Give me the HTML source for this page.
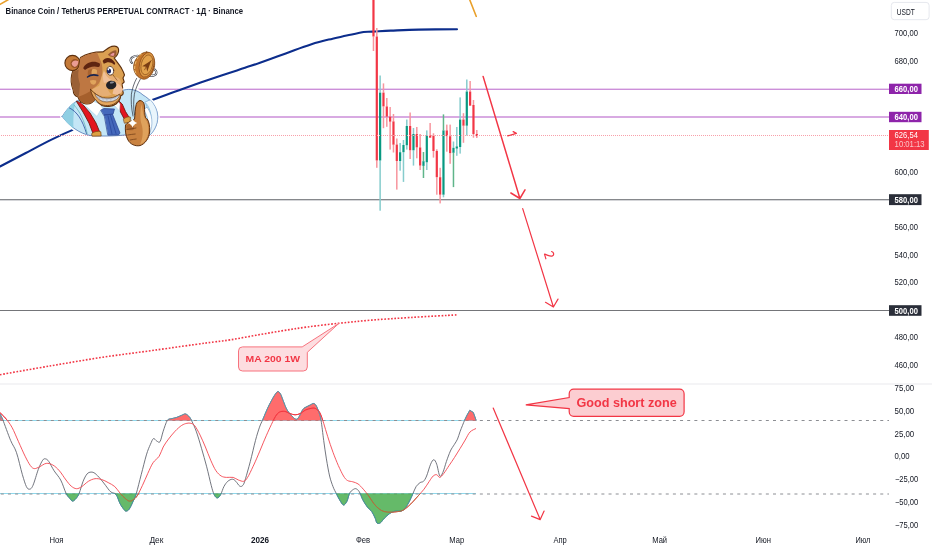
<!DOCTYPE html>
<html><head><meta charset="utf-8"><title>BNBUSDT.P</title>
<style>
html,body{margin:0;padding:0;background:#fff;}
body{width:932px;height:550px;overflow:hidden;font-family:"Liberation Sans",sans-serif;}
svg{display:block;font-family:"Liberation Sans",sans-serif;}
text{filter:url(#gs);}
.ax{font-size:8.6px;fill:#131722;}
.axw{font-size:8.6px;fill:#fff;font-weight:bold;}
</style></head><body>
<svg width="932" height="550" viewBox="0 0 932 550">
<defs>
<filter id="gs" x="-5%" y="-20%" width="110%" height="140%" color-interpolation-filters="sRGB"><feOffset dx="0" dy="0"/></filter>
<clipPath id="cu"><rect x="0" y="383" width="480" height="37.5"/></clipPath>
<clipPath id="cl"><rect x="0" y="493.5" width="480" height="60"/></clipPath>
</defs>
<rect width="932" height="550" fill="#fff"/>
<!-- pane separator -->
<rect x="0" y="383" width="932" height="2" fill="#f4f4f6"/>
<!-- horizontal levels -->
<rect x="0" y="88.6" width="889" height="1.4" fill="#cc8fd9"/>
<rect x="0" y="116.25" width="889" height="1.5" fill="#cc8fd9"/>
<rect x="0" y="199" width="889" height="1" fill="#86888c"/><rect x="0" y="200" width="889" height="1" fill="#d4d5d8"/>
<rect x="0" y="310" width="889" height="1" fill="#747579"/>
<!-- orange line bits -->
<line x1="-1" y1="5" x2="8.5" y2="-0.5" stroke="#e9a02b" stroke-width="1.6"/>
<line x1="469.6" y1="-0.5" x2="476.2" y2="16.3" stroke="#e9a02b" stroke-width="1.6" stroke-linecap="round"/>
<!-- MA blue -->
<path d="M0.0,166.5C4.3,164.2 17.2,157.5 25.8,153.0C34.3,148.5 43.7,143.4 51.5,139.6C59.3,135.8 63.0,134.0 72.7,129.9C82.5,125.8 96.8,120.0 110.0,115.0C123.2,110.0 140.1,104.2 152.2,99.9C164.3,95.6 170.8,93.0 182.5,88.9C194.2,84.8 211.8,78.7 222.2,75.2C232.6,71.7 238.7,69.9 245.0,67.8C251.3,65.7 254.6,64.7 260.0,62.8C265.4,60.9 271.5,58.7 277.2,56.6C282.9,54.5 288.6,52.3 294.3,50.2C300.0,48.1 305.8,46.0 311.5,44.2C317.2,42.4 322.8,41.0 328.7,39.6C334.6,38.2 340.8,36.9 346.6,35.6C352.4,34.3 360.8,32.6 363.6,32.0 L363.6,32.0C365.1,31.9 368.2,31.8 372.7,31.6C377.2,31.4 383.1,30.9 390.8,30.6C398.5,30.3 407.7,29.8 418.7,29.6C429.7,29.4 450.6,29.3 457.0,29.2" fill="none" stroke="#0c2d8c" stroke-width="2.1" stroke-linecap="round" stroke-linejoin="round"/>
<!-- MA200 1W dotted -->
<path d="M0.0,374.7C8.6,373.2 34.3,368.6 51.5,365.7C68.7,362.8 85.8,359.8 103.0,357.2C120.2,354.6 137.3,352.6 154.5,350.2C171.7,347.8 193.4,344.7 206.0,343.0C218.6,341.3 221.7,341.2 230.0,339.9C238.3,338.6 247.2,336.8 255.8,335.3C264.4,333.8 272.9,332.3 281.5,330.9C290.1,329.5 297.6,328.3 307.3,327.0C317.0,325.7 328.8,324.3 339.5,323.2C350.2,322.1 359.8,321.1 371.6,320.1C383.4,319.2 396.1,318.4 410.3,317.5C424.5,316.6 448.9,315.3 456.6,314.9" fill="none" stroke="#f23645" stroke-width="1.6" stroke-dasharray="1.7 1.65"/>
<!-- candles -->
<rect x="372.72" y="36.5" width="1.5" height="14.5" fill="#f7959e"/>
<rect x="372.37" y="-5.0" width="2.2" height="41.5" fill="#f23645"/>
<rect x="376.05" y="28.0" width="1.5" height="8.5" fill="#f7959e"/>
<rect x="376.05" y="160.5" width="1.5" height="7.3" fill="#f7959e"/>
<rect x="375.70" y="36.5" width="2.2" height="124.0" fill="#f23645"/>
<rect x="379.38" y="75.5" width="1.5" height="17.1" fill="#86cccd"/>
<rect x="379.38" y="160.5" width="1.5" height="50.2" fill="#86cccd"/>
<rect x="379.03" y="92.6" width="2.2" height="67.9" fill="#089981"/>
<rect x="382.72" y="83.4" width="1.5" height="9.2" fill="#f7959e"/>
<rect x="382.72" y="106.4" width="1.5" height="21.8" fill="#f7959e"/>
<rect x="382.37" y="92.6" width="2.2" height="13.8" fill="#f23645"/>
<rect x="386.05" y="98.0" width="1.5" height="8.4" fill="#f7959e"/>
<rect x="386.05" y="116.6" width="1.5" height="10.2" fill="#f7959e"/>
<rect x="385.70" y="106.4" width="2.2" height="10.2" fill="#f23645"/>
<rect x="389.38" y="107.0" width="1.5" height="9.6" fill="#f7959e"/>
<rect x="389.38" y="121.7" width="1.5" height="27.9" fill="#f7959e"/>
<rect x="389.03" y="116.6" width="2.2" height="5.1" fill="#f23645"/>
<rect x="392.72" y="114.0" width="1.5" height="7.4" fill="#f7959e"/>
<rect x="392.72" y="144.7" width="1.5" height="7.8" fill="#f7959e"/>
<rect x="392.37" y="121.4" width="2.2" height="23.3" fill="#f23645"/>
<rect x="396.05" y="138.5" width="1.5" height="6.0" fill="#f7959e"/>
<rect x="396.05" y="161.0" width="1.5" height="28.6" fill="#f7959e"/>
<rect x="395.70" y="144.5" width="2.2" height="16.5" fill="#f23645"/>
<rect x="399.38" y="143.0" width="1.5" height="9.2" fill="#86cccd"/>
<rect x="399.38" y="161.0" width="1.5" height="9.7" fill="#86cccd"/>
<rect x="399.03" y="152.2" width="2.2" height="8.8" fill="#089981"/>
<rect x="402.72" y="140.0" width="1.5" height="5.0" fill="#86cccd"/>
<rect x="402.72" y="152.2" width="1.5" height="29.7" fill="#86cccd"/>
<rect x="402.37" y="145.0" width="2.2" height="7.2" fill="#089981"/>
<rect x="406.05" y="119.5" width="1.5" height="6.5" fill="#86cccd"/>
<rect x="406.05" y="145.3" width="1.5" height="4.3" fill="#86cccd"/>
<rect x="405.70" y="126.0" width="2.2" height="19.3" fill="#089981"/>
<rect x="409.38" y="112.5" width="1.5" height="13.5" fill="#f7959e"/>
<rect x="409.38" y="150.3" width="1.5" height="8.7" fill="#f7959e"/>
<rect x="409.03" y="126.0" width="2.2" height="24.3" fill="#f23645"/>
<rect x="412.72" y="128.0" width="1.5" height="6.0" fill="#86cccd"/>
<rect x="412.72" y="150.3" width="1.5" height="15.3" fill="#86cccd"/>
<rect x="412.37" y="134.0" width="2.2" height="16.3" fill="#089981"/>
<rect x="416.05" y="127.0" width="1.5" height="7.0" fill="#f7959e"/>
<rect x="416.05" y="147.4" width="1.5" height="10.9" fill="#f7959e"/>
<rect x="415.70" y="134.0" width="2.2" height="13.4" fill="#f23645"/>
<rect x="419.38" y="134.0" width="1.5" height="13.4" fill="#f7959e"/>
<rect x="419.38" y="165.6" width="1.5" height="4.4" fill="#f7959e"/>
<rect x="419.03" y="147.4" width="2.2" height="18.2" fill="#f23645"/>
<rect x="422.72" y="152.0" width="1.5" height="9.2" fill="#5fb58a"/>
<rect x="422.72" y="165.9" width="1.5" height="12.1" fill="#5fb58a"/>
<rect x="422.37" y="161.2" width="2.2" height="4.7" fill="#089981"/>
<rect x="426.05" y="130.4" width="1.5" height="5.1" fill="#86cccd"/>
<rect x="426.05" y="162.3" width="1.5" height="7.7" fill="#86cccd"/>
<rect x="425.70" y="135.5" width="2.2" height="26.8" fill="#089981"/>
<rect x="429.38" y="123.0" width="1.5" height="12.3" fill="#f7959e"/>
<rect x="429.03" y="135.3" width="2.2" height="2.4" fill="#f23645"/>
<rect x="432.72" y="133.3" width="1.5" height="2.2" fill="#f7959e"/>
<rect x="432.72" y="151.0" width="1.5" height="6.6" fill="#f7959e"/>
<rect x="432.37" y="135.5" width="2.2" height="15.5" fill="#f23645"/>
<rect x="436.05" y="149.3" width="1.5" height="1.7" fill="#f7959e"/>
<rect x="436.05" y="177.2" width="1.5" height="17.5" fill="#f7959e"/>
<rect x="435.70" y="151.0" width="2.2" height="26.2" fill="#f23645"/>
<rect x="439.38" y="167.8" width="1.5" height="9.4" fill="#f7959e"/>
<rect x="439.38" y="194.7" width="1.5" height="8.7" fill="#f7959e"/>
<rect x="439.03" y="177.2" width="2.2" height="17.5" fill="#f23645"/>
<rect x="442.72" y="114.4" width="1.5" height="16.0" fill="#5fb58a"/>
<rect x="442.72" y="194.7" width="1.5" height="2.6" fill="#86cccd"/>
<rect x="442.37" y="130.4" width="2.2" height="64.3" fill="#089981"/>
<rect x="446.05" y="124.6" width="1.5" height="5.8" fill="#f7959e"/>
<rect x="446.05" y="136.2" width="1.5" height="15.5" fill="#f7959e"/>
<rect x="445.70" y="130.4" width="2.2" height="5.8" fill="#f23645"/>
<rect x="449.38" y="124.6" width="1.5" height="11.6" fill="#f7959e"/>
<rect x="449.38" y="153.2" width="1.5" height="10.6" fill="#f7959e"/>
<rect x="449.03" y="136.2" width="2.2" height="17.0" fill="#f23645"/>
<rect x="452.72" y="141.5" width="1.5" height="6.3" fill="#86cccd"/>
<rect x="452.72" y="152.8" width="1.5" height="34.3" fill="#5fb58a"/>
<rect x="452.37" y="147.8" width="2.2" height="5.0" fill="#089981"/>
<rect x="456.05" y="127.0" width="1.5" height="19.4" fill="#86cccd"/>
<rect x="456.05" y="148.6" width="1.5" height="7.2" fill="#86cccd"/>
<rect x="455.70" y="146.4" width="2.2" height="2.2" fill="#089981"/>
<rect x="459.38" y="97.4" width="1.5" height="22.1" fill="#86cccd"/>
<rect x="459.38" y="147.0" width="1.5" height="6.6" fill="#86cccd"/>
<rect x="459.03" y="119.5" width="2.2" height="27.5" fill="#089981"/>
<rect x="462.72" y="113.2" width="1.5" height="6.3" fill="#f7959e"/>
<rect x="462.72" y="125.7" width="1.5" height="17.1" fill="#f7959e"/>
<rect x="462.37" y="119.5" width="2.2" height="6.2" fill="#f23645"/>
<rect x="466.05" y="79.5" width="1.5" height="12.0" fill="#86cccd"/>
<rect x="466.05" y="125.7" width="1.5" height="9.8" fill="#86cccd"/>
<rect x="465.70" y="91.5" width="2.2" height="34.2" fill="#089981"/>
<rect x="469.38" y="81.0" width="1.5" height="10.5" fill="#f7959e"/>
<rect x="469.03" y="91.5" width="2.2" height="14.2" fill="#f23645"/>
<rect x="472.72" y="100.0" width="1.5" height="5.0" fill="#f7959e"/>
<rect x="472.72" y="134.0" width="1.5" height="3.7" fill="#f7959e"/>
<rect x="472.37" y="105.0" width="2.2" height="29.0" fill="#f23645"/>
<rect x="476.05" y="130.0" width="1.5" height="4.0" fill="#f7959e"/>
<rect x="476.05" y="136.2" width="1.5" height="1.8" fill="#f7959e"/>
<rect x="475.70" y="134.0" width="2.2" height="2.2" fill="#f23645"/>
<!-- indicator -->
<line x1="0" y1="420.5" x2="476" y2="420.5" stroke="#8fd8ec" stroke-width="1"/>
<line x1="0" y1="493.5" x2="476" y2="493.5" stroke="#8fd8ec" stroke-width="1"/>
<line x1="0" y1="420.5" x2="889" y2="420.5" stroke="#8c8e93" stroke-width="1" stroke-dasharray="3.0 4.15" stroke-dashoffset="-0.8"/>
<line x1="0" y1="494.0" x2="889" y2="494.0" stroke="#8c8e93" stroke-width="1" stroke-dasharray="3.0 4.15" stroke-dashoffset="-0.8"/>
<path d="M0.0,414.0C0.4,414.9 0.8,414.9 2.6,419.3C4.4,423.7 8.3,434.9 10.6,440.4C12.9,445.9 14.4,446.6 16.4,452.3C18.4,458.0 20.7,469.0 22.4,474.7C24.1,480.4 25.2,484.2 26.4,486.6C27.6,489.0 28.5,489.4 29.6,489.2C30.7,489.0 31.6,488.6 33.0,485.3C34.5,482.0 36.7,473.6 38.3,469.4C39.9,465.2 41.5,461.9 42.7,460.2C43.9,458.4 44.6,458.7 45.6,458.9C46.6,459.1 47.4,459.5 48.8,461.5C50.2,463.5 52.1,467.7 54.1,470.8C56.1,473.9 58.7,476.3 60.7,480.0C62.7,483.7 64.5,490.1 66.0,493.2C67.5,496.3 68.8,497.2 69.9,498.5C71.0,499.8 71.6,501.1 72.6,501.1C73.6,501.1 74.9,499.8 76.0,498.5C77.1,497.2 78.0,496.1 79.2,493.2C80.4,490.3 81.8,484.5 83.1,481.3C84.4,478.1 85.8,475.4 87.1,473.9C88.4,472.4 89.7,472.2 91.0,472.1C92.3,472.0 93.5,472.3 95.0,473.4C96.5,474.5 98.5,476.7 100.3,478.7C102.0,480.7 103.8,483.1 105.5,485.3C107.2,487.5 109.0,490.4 110.8,491.9C112.6,493.4 114.5,492.5 116.1,494.5C117.6,496.5 118.8,501.2 120.1,503.7C121.4,506.2 123.0,508.3 124.0,509.5C125.0,510.7 125.2,511.2 126.1,511.1C127.0,511.0 128.1,510.7 129.3,509.0C130.5,507.3 132.0,503.7 133.2,501.1C134.4,498.5 135.1,497.6 136.4,493.2C137.7,488.8 139.5,481.1 141.2,474.7C142.9,468.3 144.9,459.9 146.4,454.9C147.9,449.8 149.2,447.1 150.4,444.4C151.6,441.7 152.4,439.2 153.4,438.6C154.4,438.0 155.5,440.4 156.6,440.9C157.7,441.4 158.9,443.3 160.0,441.7C161.1,440.1 162.0,434.7 163.2,431.2C164.4,427.7 165.9,422.7 167.2,420.6C168.5,418.5 169.6,419.3 171.1,418.8C172.6,418.3 174.6,418.1 176.4,417.5C178.2,416.9 180.2,415.9 181.7,415.3C183.2,414.7 184.3,413.7 185.6,414.0C186.9,414.3 188.5,415.9 189.6,417.2C190.7,418.5 191.1,419.6 192.2,421.9C193.3,424.2 194.6,426.8 196.2,431.2C197.8,435.6 199.8,442.4 201.5,448.3C203.2,454.2 205.1,460.6 206.7,466.8C208.3,473.0 210.0,480.7 211.2,485.3C212.4,489.9 213.1,492.4 214.1,494.5C215.1,496.6 216.2,497.9 217.3,497.9C218.4,497.9 219.6,496.4 220.7,494.5C221.8,492.6 222.7,488.8 223.9,486.6C225.1,484.4 226.4,482.5 227.8,481.3C229.2,480.1 231.0,479.2 232.3,479.2C233.6,479.2 234.6,480.1 235.8,481.3C237.0,482.5 238.5,485.4 239.7,486.1C240.9,486.8 241.9,486.5 242.9,485.3C243.9,484.1 244.3,482.7 245.5,478.7C246.7,474.7 248.6,467.9 250.3,461.5C252.0,455.1 254.0,446.1 255.5,440.4C257.0,434.7 258.3,430.7 259.5,427.2C260.7,423.7 261.6,422.4 262.9,419.3C264.2,416.2 266.0,411.8 267.4,408.7C268.8,405.6 270.1,403.2 271.4,400.8C272.7,398.4 274.2,395.7 275.3,394.2C276.4,392.7 277.1,391.6 278.0,391.6C278.9,391.6 279.7,392.7 280.6,394.2C281.5,395.7 282.1,398.1 283.2,400.8C284.3,403.5 285.6,407.5 287.2,410.1C288.8,412.8 291.0,415.2 292.5,416.7C294.0,418.2 295.3,419.3 296.4,419.3C297.5,419.3 298.0,418.4 299.1,416.7C300.2,415.0 301.7,411.0 303.0,409.3C304.3,407.6 305.7,407.4 307.0,406.6C308.3,405.9 309.5,405.3 310.6,404.8C311.7,404.3 312.7,403.3 313.7,403.5C314.7,403.7 315.5,404.6 316.4,406.1C317.3,407.6 318.2,410.3 319.0,412.7C319.8,415.1 320.3,416.0 321.1,420.6C321.9,425.2 322.8,434.0 323.7,440.4C324.6,446.8 325.4,453.0 326.4,458.9C327.4,464.8 328.5,471.4 329.6,476.0C330.7,480.6 331.9,483.7 333.0,486.6C334.1,489.6 335.3,491.5 336.4,493.7C337.5,495.9 338.4,497.9 339.6,499.8C340.8,501.7 342.3,504.8 343.5,505.0C344.7,505.2 346.0,503.1 347.0,501.1C348.0,499.1 348.6,495.1 349.6,493.2C350.6,491.3 351.8,490.6 352.8,489.8C353.9,489.1 354.8,488.4 355.9,488.7C357.0,489.0 358.2,490.0 359.4,491.9C360.5,493.8 361.5,497.3 362.8,499.8C364.1,502.3 365.8,504.9 367.3,506.9C368.8,508.9 370.5,509.7 371.8,511.6C373.1,513.5 374.3,516.3 375.2,518.2C376.1,520.1 376.1,522.2 377.0,523.0C377.9,523.8 379.3,523.5 380.5,522.7C381.7,521.9 382.9,519.7 384.4,518.2C385.9,516.7 387.9,514.7 389.7,513.5C391.5,512.3 393.0,511.5 395.0,511.1C397.0,510.7 399.9,511.5 401.6,510.9C403.4,510.3 404.2,509.3 405.5,507.7C406.8,506.1 408.3,503.4 409.5,501.1C410.7,498.8 411.8,496.1 412.9,493.7C414.0,491.3 414.9,488.5 416.1,486.6C417.3,484.8 418.9,483.5 420.1,482.6C421.3,481.7 422.4,482.4 423.5,481.3C424.6,480.2 425.4,478.9 426.6,476.0C427.8,473.1 429.4,466.9 430.6,464.2C431.8,461.5 432.8,459.7 433.8,459.7C434.8,459.7 435.7,461.5 436.7,464.2C437.7,466.9 438.8,474.7 439.8,476.0C440.9,477.3 441.9,474.5 443.0,472.1C444.1,469.7 445.2,465.0 446.4,461.5C447.6,458.0 449.1,453.9 450.4,451.0C451.7,448.1 453.2,446.4 454.4,444.4C455.6,442.4 456.5,441.3 457.5,439.1C458.5,436.9 459.0,434.3 460.2,431.2C461.4,428.1 463.8,422.2 464.5,420.4 L467,415.2 L469.8,410.3 L473.3,412.5 L476.2,420.5" fill="none" stroke="#5a5d68" stroke-width="0.85" stroke-linejoin="round"/>
<path d="M0.0,412.7C0.9,413.6 3.3,415.6 5.3,418.0C7.3,420.4 9.7,423.2 11.9,427.2C14.1,431.1 16.3,436.9 18.5,441.7C20.7,446.5 23.1,452.2 25.1,456.2C27.1,460.2 28.8,463.4 30.3,465.5C31.8,467.6 32.8,468.4 34.3,468.6C35.8,468.8 37.6,467.7 39.6,466.8C41.6,465.9 44.0,463.7 46.2,463.4C48.4,463.1 50.6,463.8 52.8,465.0C55.0,466.2 57.2,468.3 59.4,470.8C61.6,473.3 64.0,477.4 66.0,480.0C68.0,482.6 69.5,484.7 71.2,486.1C73.0,487.6 74.7,488.6 76.5,488.7C78.3,488.8 79.8,487.8 81.8,486.6C83.8,485.4 86.2,482.6 88.4,481.3C90.6,480.0 92.8,479.0 95.0,478.7C97.2,478.4 99.4,478.9 101.6,479.5C103.8,480.1 106.0,481.4 108.2,482.6C110.4,483.8 112.8,484.8 114.8,486.6C116.8,488.4 118.3,491.2 120.1,493.2C121.8,495.2 123.8,497.2 125.3,498.5C126.8,499.8 128.0,500.9 129.3,501.1C130.6,501.3 131.9,500.7 133.2,499.8C134.5,498.9 135.6,498.2 137.2,495.8C138.8,493.4 140.7,489.0 142.5,485.3C144.3,481.6 146.1,477.1 147.8,473.4C149.6,469.6 151.1,465.7 153.0,462.8C154.9,459.9 157.5,458.8 159.2,456.2C160.9,453.6 161.6,449.9 163.2,447.0C164.8,444.1 166.5,441.7 168.5,439.1C170.5,436.5 172.9,433.5 175.1,431.2C177.3,428.9 179.7,426.7 181.7,425.4C183.7,424.1 185.4,423.6 186.9,423.3C188.4,423.0 189.6,422.9 190.9,423.3C192.2,423.7 193.4,423.9 194.9,425.9C196.4,427.9 198.3,431.6 200.1,435.1C201.8,438.6 203.6,442.8 205.4,447.0C207.2,451.2 208.9,456.2 210.7,460.2C212.5,464.2 214.2,468.2 216.0,470.8C217.8,473.4 219.4,474.9 221.2,476.0C222.9,477.1 224.5,477.2 226.5,477.4C228.5,477.6 231.1,477.0 233.1,477.4C235.1,477.8 236.6,479.4 238.4,480.0C240.2,480.6 242.2,481.7 243.7,481.3C245.2,480.9 246.1,479.8 247.6,477.4C249.1,475.0 251.1,470.6 252.9,466.8C254.7,463.1 256.2,459.5 258.2,454.9C260.2,450.3 262.8,443.7 264.8,439.1C266.8,434.5 268.4,430.9 270.1,427.2C271.9,423.5 273.8,419.2 275.3,416.7C276.8,414.2 277.8,413.1 279.3,412.2C280.9,411.3 282.9,411.2 284.6,411.4C286.4,411.6 288.1,412.9 289.8,413.5C291.6,414.1 293.3,414.8 295.1,414.8C296.9,414.8 298.7,414.3 300.4,413.5C302.1,412.7 303.4,411.0 305.3,410.1C307.2,409.2 310.1,408.4 311.9,408.2C313.6,408.0 314.5,407.9 315.8,408.7C317.1,409.4 318.5,410.3 319.8,412.7C321.1,415.1 322.4,419.3 323.7,423.3C325.0,427.3 326.1,431.7 327.7,436.5C329.2,441.3 331.2,447.5 333.0,452.3C334.8,457.1 336.6,461.6 338.3,465.5C340.1,469.4 342.0,473.5 343.5,476.0C345.0,478.5 345.9,479.5 347.5,480.5C349.1,481.5 351.1,481.2 352.8,481.8C354.6,482.4 356.2,482.7 358.0,483.9C359.8,485.1 361.5,487.2 363.3,489.2C365.1,491.2 366.8,493.4 368.6,495.8C370.4,498.2 372.1,501.5 373.9,503.7C375.7,505.9 377.4,507.7 379.2,509.0C380.9,510.3 382.4,511.1 384.4,511.6C386.4,512.1 388.8,512.2 391.0,512.2C393.2,512.2 395.6,511.9 397.6,511.6C399.6,511.3 401.1,511.2 402.9,510.3C404.7,509.4 406.4,507.9 408.2,506.4C410.0,504.9 411.8,503.0 413.5,501.1C415.2,499.2 416.9,497.3 418.7,495.3C420.4,493.3 422.2,491.5 424.0,489.2C425.8,486.9 427.8,483.5 429.3,481.3C430.8,479.1 432.0,477.1 433.2,476.0C434.4,474.9 435.6,474.5 436.7,474.7C437.8,474.9 438.6,477.6 439.8,477.4C441.0,477.2 442.2,475.4 443.8,473.4C445.4,471.4 447.3,468.1 449.1,465.5C450.9,462.9 452.5,460.5 454.4,457.6C456.2,454.7 458.4,451.2 460.2,448.3C462.0,445.4 463.6,442.7 465.2,440.0C466.8,437.3 468.2,433.9 470.0,432.0C471.8,430.1 475.0,429.1 476.0,428.5" fill="none" stroke="#f4454f" stroke-width="0.9"/>
<g clip-path="url(#cu)"><path d="M0.0,414.0C0.4,414.9 0.8,414.9 2.6,419.3C4.4,423.7 8.3,434.9 10.6,440.4C12.9,445.9 14.4,446.6 16.4,452.3C18.4,458.0 20.7,469.0 22.4,474.7C24.1,480.4 25.2,484.2 26.4,486.6C27.6,489.0 28.5,489.4 29.6,489.2C30.7,489.0 31.6,488.6 33.0,485.3C34.5,482.0 36.7,473.6 38.3,469.4C39.9,465.2 41.5,461.9 42.7,460.2C43.9,458.4 44.6,458.7 45.6,458.9C46.6,459.1 47.4,459.5 48.8,461.5C50.2,463.5 52.1,467.7 54.1,470.8C56.1,473.9 58.7,476.3 60.7,480.0C62.7,483.7 64.5,490.1 66.0,493.2C67.5,496.3 68.8,497.2 69.9,498.5C71.0,499.8 71.6,501.1 72.6,501.1C73.6,501.1 74.9,499.8 76.0,498.5C77.1,497.2 78.0,496.1 79.2,493.2C80.4,490.3 81.8,484.5 83.1,481.3C84.4,478.1 85.8,475.4 87.1,473.9C88.4,472.4 89.7,472.2 91.0,472.1C92.3,472.0 93.5,472.3 95.0,473.4C96.5,474.5 98.5,476.7 100.3,478.7C102.0,480.7 103.8,483.1 105.5,485.3C107.2,487.5 109.0,490.4 110.8,491.9C112.6,493.4 114.5,492.5 116.1,494.5C117.6,496.5 118.8,501.2 120.1,503.7C121.4,506.2 123.0,508.3 124.0,509.5C125.0,510.7 125.2,511.2 126.1,511.1C127.0,511.0 128.1,510.7 129.3,509.0C130.5,507.3 132.0,503.7 133.2,501.1C134.4,498.5 135.1,497.6 136.4,493.2C137.7,488.8 139.5,481.1 141.2,474.7C142.9,468.3 144.9,459.9 146.4,454.9C147.9,449.8 149.2,447.1 150.4,444.4C151.6,441.7 152.4,439.2 153.4,438.6C154.4,438.0 155.5,440.4 156.6,440.9C157.7,441.4 158.9,443.3 160.0,441.7C161.1,440.1 162.0,434.7 163.2,431.2C164.4,427.7 165.9,422.7 167.2,420.6C168.5,418.5 169.6,419.3 171.1,418.8C172.6,418.3 174.6,418.1 176.4,417.5C178.2,416.9 180.2,415.9 181.7,415.3C183.2,414.7 184.3,413.7 185.6,414.0C186.9,414.3 188.5,415.9 189.6,417.2C190.7,418.5 191.1,419.6 192.2,421.9C193.3,424.2 194.6,426.8 196.2,431.2C197.8,435.6 199.8,442.4 201.5,448.3C203.2,454.2 205.1,460.6 206.7,466.8C208.3,473.0 210.0,480.7 211.2,485.3C212.4,489.9 213.1,492.4 214.1,494.5C215.1,496.6 216.2,497.9 217.3,497.9C218.4,497.9 219.6,496.4 220.7,494.5C221.8,492.6 222.7,488.8 223.9,486.6C225.1,484.4 226.4,482.5 227.8,481.3C229.2,480.1 231.0,479.2 232.3,479.2C233.6,479.2 234.6,480.1 235.8,481.3C237.0,482.5 238.5,485.4 239.7,486.1C240.9,486.8 241.9,486.5 242.9,485.3C243.9,484.1 244.3,482.7 245.5,478.7C246.7,474.7 248.6,467.9 250.3,461.5C252.0,455.1 254.0,446.1 255.5,440.4C257.0,434.7 258.3,430.7 259.5,427.2C260.7,423.7 261.6,422.4 262.9,419.3C264.2,416.2 266.0,411.8 267.4,408.7C268.8,405.6 270.1,403.2 271.4,400.8C272.7,398.4 274.2,395.7 275.3,394.2C276.4,392.7 277.1,391.6 278.0,391.6C278.9,391.6 279.7,392.7 280.6,394.2C281.5,395.7 282.1,398.1 283.2,400.8C284.3,403.5 285.6,407.5 287.2,410.1C288.8,412.8 291.0,415.2 292.5,416.7C294.0,418.2 295.3,419.3 296.4,419.3C297.5,419.3 298.0,418.4 299.1,416.7C300.2,415.0 301.7,411.0 303.0,409.3C304.3,407.6 305.7,407.4 307.0,406.6C308.3,405.9 309.5,405.3 310.6,404.8C311.7,404.3 312.7,403.3 313.7,403.5C314.7,403.7 315.5,404.6 316.4,406.1C317.3,407.6 318.2,410.3 319.0,412.7C319.8,415.1 320.3,416.0 321.1,420.6C321.9,425.2 322.8,434.0 323.7,440.4C324.6,446.8 325.4,453.0 326.4,458.9C327.4,464.8 328.5,471.4 329.6,476.0C330.7,480.6 331.9,483.7 333.0,486.6C334.1,489.6 335.3,491.5 336.4,493.7C337.5,495.9 338.4,497.9 339.6,499.8C340.8,501.7 342.3,504.8 343.5,505.0C344.7,505.2 346.0,503.1 347.0,501.1C348.0,499.1 348.6,495.1 349.6,493.2C350.6,491.3 351.8,490.6 352.8,489.8C353.9,489.1 354.8,488.4 355.9,488.7C357.0,489.0 358.2,490.0 359.4,491.9C360.5,493.8 361.5,497.3 362.8,499.8C364.1,502.3 365.8,504.9 367.3,506.9C368.8,508.9 370.5,509.7 371.8,511.6C373.1,513.5 374.3,516.3 375.2,518.2C376.1,520.1 376.1,522.2 377.0,523.0C377.9,523.8 379.3,523.5 380.5,522.7C381.7,521.9 382.9,519.7 384.4,518.2C385.9,516.7 387.9,514.7 389.7,513.5C391.5,512.3 393.0,511.5 395.0,511.1C397.0,510.7 399.9,511.5 401.6,510.9C403.4,510.3 404.2,509.3 405.5,507.7C406.8,506.1 408.3,503.4 409.5,501.1C410.7,498.8 411.8,496.1 412.9,493.7C414.0,491.3 414.9,488.5 416.1,486.6C417.3,484.8 418.9,483.5 420.1,482.6C421.3,481.7 422.4,482.4 423.5,481.3C424.6,480.2 425.4,478.9 426.6,476.0C427.8,473.1 429.4,466.9 430.6,464.2C431.8,461.5 432.8,459.7 433.8,459.7C434.8,459.7 435.7,461.5 436.7,464.2C437.7,466.9 438.8,474.7 439.8,476.0C440.9,477.3 441.9,474.5 443.0,472.1C444.1,469.7 445.2,465.0 446.4,461.5C447.6,458.0 449.1,453.9 450.4,451.0C451.7,448.1 453.2,446.4 454.4,444.4C455.6,442.4 456.5,441.3 457.5,439.1C458.5,436.9 459.0,434.3 460.2,431.2C461.4,428.1 463.8,422.2 464.5,420.4 L467,415.2 L469.8,410.3 L473.3,412.5 L476.2,420.5 L476.2,425.5 L0,425.5 Z" fill="#ff5252" fill-opacity="0.85" stroke="#4a9fb5" stroke-width="0.9"/></g>
<g clip-path="url(#cl)"><path d="M0.0,414.0C0.4,414.9 0.8,414.9 2.6,419.3C4.4,423.7 8.3,434.9 10.6,440.4C12.9,445.9 14.4,446.6 16.4,452.3C18.4,458.0 20.7,469.0 22.4,474.7C24.1,480.4 25.2,484.2 26.4,486.6C27.6,489.0 28.5,489.4 29.6,489.2C30.7,489.0 31.6,488.6 33.0,485.3C34.5,482.0 36.7,473.6 38.3,469.4C39.9,465.2 41.5,461.9 42.7,460.2C43.9,458.4 44.6,458.7 45.6,458.9C46.6,459.1 47.4,459.5 48.8,461.5C50.2,463.5 52.1,467.7 54.1,470.8C56.1,473.9 58.7,476.3 60.7,480.0C62.7,483.7 64.5,490.1 66.0,493.2C67.5,496.3 68.8,497.2 69.9,498.5C71.0,499.8 71.6,501.1 72.6,501.1C73.6,501.1 74.9,499.8 76.0,498.5C77.1,497.2 78.0,496.1 79.2,493.2C80.4,490.3 81.8,484.5 83.1,481.3C84.4,478.1 85.8,475.4 87.1,473.9C88.4,472.4 89.7,472.2 91.0,472.1C92.3,472.0 93.5,472.3 95.0,473.4C96.5,474.5 98.5,476.7 100.3,478.7C102.0,480.7 103.8,483.1 105.5,485.3C107.2,487.5 109.0,490.4 110.8,491.9C112.6,493.4 114.5,492.5 116.1,494.5C117.6,496.5 118.8,501.2 120.1,503.7C121.4,506.2 123.0,508.3 124.0,509.5C125.0,510.7 125.2,511.2 126.1,511.1C127.0,511.0 128.1,510.7 129.3,509.0C130.5,507.3 132.0,503.7 133.2,501.1C134.4,498.5 135.1,497.6 136.4,493.2C137.7,488.8 139.5,481.1 141.2,474.7C142.9,468.3 144.9,459.9 146.4,454.9C147.9,449.8 149.2,447.1 150.4,444.4C151.6,441.7 152.4,439.2 153.4,438.6C154.4,438.0 155.5,440.4 156.6,440.9C157.7,441.4 158.9,443.3 160.0,441.7C161.1,440.1 162.0,434.7 163.2,431.2C164.4,427.7 165.9,422.7 167.2,420.6C168.5,418.5 169.6,419.3 171.1,418.8C172.6,418.3 174.6,418.1 176.4,417.5C178.2,416.9 180.2,415.9 181.7,415.3C183.2,414.7 184.3,413.7 185.6,414.0C186.9,414.3 188.5,415.9 189.6,417.2C190.7,418.5 191.1,419.6 192.2,421.9C193.3,424.2 194.6,426.8 196.2,431.2C197.8,435.6 199.8,442.4 201.5,448.3C203.2,454.2 205.1,460.6 206.7,466.8C208.3,473.0 210.0,480.7 211.2,485.3C212.4,489.9 213.1,492.4 214.1,494.5C215.1,496.6 216.2,497.9 217.3,497.9C218.4,497.9 219.6,496.4 220.7,494.5C221.8,492.6 222.7,488.8 223.9,486.6C225.1,484.4 226.4,482.5 227.8,481.3C229.2,480.1 231.0,479.2 232.3,479.2C233.6,479.2 234.6,480.1 235.8,481.3C237.0,482.5 238.5,485.4 239.7,486.1C240.9,486.8 241.9,486.5 242.9,485.3C243.9,484.1 244.3,482.7 245.5,478.7C246.7,474.7 248.6,467.9 250.3,461.5C252.0,455.1 254.0,446.1 255.5,440.4C257.0,434.7 258.3,430.7 259.5,427.2C260.7,423.7 261.6,422.4 262.9,419.3C264.2,416.2 266.0,411.8 267.4,408.7C268.8,405.6 270.1,403.2 271.4,400.8C272.7,398.4 274.2,395.7 275.3,394.2C276.4,392.7 277.1,391.6 278.0,391.6C278.9,391.6 279.7,392.7 280.6,394.2C281.5,395.7 282.1,398.1 283.2,400.8C284.3,403.5 285.6,407.5 287.2,410.1C288.8,412.8 291.0,415.2 292.5,416.7C294.0,418.2 295.3,419.3 296.4,419.3C297.5,419.3 298.0,418.4 299.1,416.7C300.2,415.0 301.7,411.0 303.0,409.3C304.3,407.6 305.7,407.4 307.0,406.6C308.3,405.9 309.5,405.3 310.6,404.8C311.7,404.3 312.7,403.3 313.7,403.5C314.7,403.7 315.5,404.6 316.4,406.1C317.3,407.6 318.2,410.3 319.0,412.7C319.8,415.1 320.3,416.0 321.1,420.6C321.9,425.2 322.8,434.0 323.7,440.4C324.6,446.8 325.4,453.0 326.4,458.9C327.4,464.8 328.5,471.4 329.6,476.0C330.7,480.6 331.9,483.7 333.0,486.6C334.1,489.6 335.3,491.5 336.4,493.7C337.5,495.9 338.4,497.9 339.6,499.8C340.8,501.7 342.3,504.8 343.5,505.0C344.7,505.2 346.0,503.1 347.0,501.1C348.0,499.1 348.6,495.1 349.6,493.2C350.6,491.3 351.8,490.6 352.8,489.8C353.9,489.1 354.8,488.4 355.9,488.7C357.0,489.0 358.2,490.0 359.4,491.9C360.5,493.8 361.5,497.3 362.8,499.8C364.1,502.3 365.8,504.9 367.3,506.9C368.8,508.9 370.5,509.7 371.8,511.6C373.1,513.5 374.3,516.3 375.2,518.2C376.1,520.1 376.1,522.2 377.0,523.0C377.9,523.8 379.3,523.5 380.5,522.7C381.7,521.9 382.9,519.7 384.4,518.2C385.9,516.7 387.9,514.7 389.7,513.5C391.5,512.3 393.0,511.5 395.0,511.1C397.0,510.7 399.9,511.5 401.6,510.9C403.4,510.3 404.2,509.3 405.5,507.7C406.8,506.1 408.3,503.4 409.5,501.1C410.7,498.8 411.8,496.1 412.9,493.7C414.0,491.3 414.9,488.5 416.1,486.6C417.3,484.8 418.9,483.5 420.1,482.6C421.3,481.7 422.4,482.4 423.5,481.3C424.6,480.2 425.4,478.9 426.6,476.0C427.8,473.1 429.4,466.9 430.6,464.2C431.8,461.5 432.8,459.7 433.8,459.7C434.8,459.7 435.7,461.5 436.7,464.2C437.7,466.9 438.8,474.7 439.8,476.0C440.9,477.3 441.9,474.5 443.0,472.1C444.1,469.7 445.2,465.0 446.4,461.5C447.6,458.0 449.1,453.9 450.4,451.0C451.7,448.1 453.2,446.4 454.4,444.4C455.6,442.4 456.5,441.3 457.5,439.1C458.5,436.9 459.0,434.3 460.2,431.2C461.4,428.1 463.8,422.2 464.5,420.4 L467,415.2 L469.8,410.3 L473.3,412.5 L476.2,420.5 L476.2,489.0 L0,489.0 Z" fill="#4caf50" fill-opacity="0.86" stroke="#3f93a6" stroke-width="0.9"/></g>
<g clip-path="url(#cl)"><path d="M0.0,412.7C0.9,413.6 3.3,415.6 5.3,418.0C7.3,420.4 9.7,423.2 11.9,427.2C14.1,431.1 16.3,436.9 18.5,441.7C20.7,446.5 23.1,452.2 25.1,456.2C27.1,460.2 28.8,463.4 30.3,465.5C31.8,467.6 32.8,468.4 34.3,468.6C35.8,468.8 37.6,467.7 39.6,466.8C41.6,465.9 44.0,463.7 46.2,463.4C48.4,463.1 50.6,463.8 52.8,465.0C55.0,466.2 57.2,468.3 59.4,470.8C61.6,473.3 64.0,477.4 66.0,480.0C68.0,482.6 69.5,484.7 71.2,486.1C73.0,487.6 74.7,488.6 76.5,488.7C78.3,488.8 79.8,487.8 81.8,486.6C83.8,485.4 86.2,482.6 88.4,481.3C90.6,480.0 92.8,479.0 95.0,478.7C97.2,478.4 99.4,478.9 101.6,479.5C103.8,480.1 106.0,481.4 108.2,482.6C110.4,483.8 112.8,484.8 114.8,486.6C116.8,488.4 118.3,491.2 120.1,493.2C121.8,495.2 123.8,497.2 125.3,498.5C126.8,499.8 128.0,500.9 129.3,501.1C130.6,501.3 131.9,500.7 133.2,499.8C134.5,498.9 135.6,498.2 137.2,495.8C138.8,493.4 140.7,489.0 142.5,485.3C144.3,481.6 146.1,477.1 147.8,473.4C149.6,469.6 151.1,465.7 153.0,462.8C154.9,459.9 157.5,458.8 159.2,456.2C160.9,453.6 161.6,449.9 163.2,447.0C164.8,444.1 166.5,441.7 168.5,439.1C170.5,436.5 172.9,433.5 175.1,431.2C177.3,428.9 179.7,426.7 181.7,425.4C183.7,424.1 185.4,423.6 186.9,423.3C188.4,423.0 189.6,422.9 190.9,423.3C192.2,423.7 193.4,423.9 194.9,425.9C196.4,427.9 198.3,431.6 200.1,435.1C201.8,438.6 203.6,442.8 205.4,447.0C207.2,451.2 208.9,456.2 210.7,460.2C212.5,464.2 214.2,468.2 216.0,470.8C217.8,473.4 219.4,474.9 221.2,476.0C222.9,477.1 224.5,477.2 226.5,477.4C228.5,477.6 231.1,477.0 233.1,477.4C235.1,477.8 236.6,479.4 238.4,480.0C240.2,480.6 242.2,481.7 243.7,481.3C245.2,480.9 246.1,479.8 247.6,477.4C249.1,475.0 251.1,470.6 252.9,466.8C254.7,463.1 256.2,459.5 258.2,454.9C260.2,450.3 262.8,443.7 264.8,439.1C266.8,434.5 268.4,430.9 270.1,427.2C271.9,423.5 273.8,419.2 275.3,416.7C276.8,414.2 277.8,413.1 279.3,412.2C280.9,411.3 282.9,411.2 284.6,411.4C286.4,411.6 288.1,412.9 289.8,413.5C291.6,414.1 293.3,414.8 295.1,414.8C296.9,414.8 298.7,414.3 300.4,413.5C302.1,412.7 303.4,411.0 305.3,410.1C307.2,409.2 310.1,408.4 311.9,408.2C313.6,408.0 314.5,407.9 315.8,408.7C317.1,409.4 318.5,410.3 319.8,412.7C321.1,415.1 322.4,419.3 323.7,423.3C325.0,427.3 326.1,431.7 327.7,436.5C329.2,441.3 331.2,447.5 333.0,452.3C334.8,457.1 336.6,461.6 338.3,465.5C340.1,469.4 342.0,473.5 343.5,476.0C345.0,478.5 345.9,479.5 347.5,480.5C349.1,481.5 351.1,481.2 352.8,481.8C354.6,482.4 356.2,482.7 358.0,483.9C359.8,485.1 361.5,487.2 363.3,489.2C365.1,491.2 366.8,493.4 368.6,495.8C370.4,498.2 372.1,501.5 373.9,503.7C375.7,505.9 377.4,507.7 379.2,509.0C380.9,510.3 382.4,511.1 384.4,511.6C386.4,512.1 388.8,512.2 391.0,512.2C393.2,512.2 395.6,511.9 397.6,511.6C399.6,511.3 401.1,511.2 402.9,510.3C404.7,509.4 406.4,507.9 408.2,506.4C410.0,504.9 411.8,503.0 413.5,501.1C415.2,499.2 416.9,497.3 418.7,495.3C420.4,493.3 422.2,491.5 424.0,489.2C425.8,486.9 427.8,483.5 429.3,481.3C430.8,479.1 432.0,477.1 433.2,476.0C434.4,474.9 435.6,474.5 436.7,474.7C437.8,474.9 438.6,477.6 439.8,477.4C441.0,477.2 442.2,475.4 443.8,473.4C445.4,471.4 447.3,468.1 449.1,465.5C450.9,462.9 452.5,460.5 454.4,457.6C456.2,454.7 458.4,451.2 460.2,448.3C462.0,445.4 463.6,442.7 465.2,440.0C466.8,437.3 468.2,433.9 470.0,432.0C471.8,430.1 475.0,429.1 476.0,428.5" fill="none" stroke="#c0673a" stroke-width="1"/></g>
<g clip-path="url(#cu)"><path d="M0.0,412.7C0.9,413.6 3.3,415.6 5.3,418.0C7.3,420.4 9.7,423.2 11.9,427.2C14.1,431.1 16.3,436.9 18.5,441.7C20.7,446.5 23.1,452.2 25.1,456.2C27.1,460.2 28.8,463.4 30.3,465.5C31.8,467.6 32.8,468.4 34.3,468.6C35.8,468.8 37.6,467.7 39.6,466.8C41.6,465.9 44.0,463.7 46.2,463.4C48.4,463.1 50.6,463.8 52.8,465.0C55.0,466.2 57.2,468.3 59.4,470.8C61.6,473.3 64.0,477.4 66.0,480.0C68.0,482.6 69.5,484.7 71.2,486.1C73.0,487.6 74.7,488.6 76.5,488.7C78.3,488.8 79.8,487.8 81.8,486.6C83.8,485.4 86.2,482.6 88.4,481.3C90.6,480.0 92.8,479.0 95.0,478.7C97.2,478.4 99.4,478.9 101.6,479.5C103.8,480.1 106.0,481.4 108.2,482.6C110.4,483.8 112.8,484.8 114.8,486.6C116.8,488.4 118.3,491.2 120.1,493.2C121.8,495.2 123.8,497.2 125.3,498.5C126.8,499.8 128.0,500.9 129.3,501.1C130.6,501.3 131.9,500.7 133.2,499.8C134.5,498.9 135.6,498.2 137.2,495.8C138.8,493.4 140.7,489.0 142.5,485.3C144.3,481.6 146.1,477.1 147.8,473.4C149.6,469.6 151.1,465.7 153.0,462.8C154.9,459.9 157.5,458.8 159.2,456.2C160.9,453.6 161.6,449.9 163.2,447.0C164.8,444.1 166.5,441.7 168.5,439.1C170.5,436.5 172.9,433.5 175.1,431.2C177.3,428.9 179.7,426.7 181.7,425.4C183.7,424.1 185.4,423.6 186.9,423.3C188.4,423.0 189.6,422.9 190.9,423.3C192.2,423.7 193.4,423.9 194.9,425.9C196.4,427.9 198.3,431.6 200.1,435.1C201.8,438.6 203.6,442.8 205.4,447.0C207.2,451.2 208.9,456.2 210.7,460.2C212.5,464.2 214.2,468.2 216.0,470.8C217.8,473.4 219.4,474.9 221.2,476.0C222.9,477.1 224.5,477.2 226.5,477.4C228.5,477.6 231.1,477.0 233.1,477.4C235.1,477.8 236.6,479.4 238.4,480.0C240.2,480.6 242.2,481.7 243.7,481.3C245.2,480.9 246.1,479.8 247.6,477.4C249.1,475.0 251.1,470.6 252.9,466.8C254.7,463.1 256.2,459.5 258.2,454.9C260.2,450.3 262.8,443.7 264.8,439.1C266.8,434.5 268.4,430.9 270.1,427.2C271.9,423.5 273.8,419.2 275.3,416.7C276.8,414.2 277.8,413.1 279.3,412.2C280.9,411.3 282.9,411.2 284.6,411.4C286.4,411.6 288.1,412.9 289.8,413.5C291.6,414.1 293.3,414.8 295.1,414.8C296.9,414.8 298.7,414.3 300.4,413.5C302.1,412.7 303.4,411.0 305.3,410.1C307.2,409.2 310.1,408.4 311.9,408.2C313.6,408.0 314.5,407.9 315.8,408.7C317.1,409.4 318.5,410.3 319.8,412.7C321.1,415.1 322.4,419.3 323.7,423.3C325.0,427.3 326.1,431.7 327.7,436.5C329.2,441.3 331.2,447.5 333.0,452.3C334.8,457.1 336.6,461.6 338.3,465.5C340.1,469.4 342.0,473.5 343.5,476.0C345.0,478.5 345.9,479.5 347.5,480.5C349.1,481.5 351.1,481.2 352.8,481.8C354.6,482.4 356.2,482.7 358.0,483.9C359.8,485.1 361.5,487.2 363.3,489.2C365.1,491.2 366.8,493.4 368.6,495.8C370.4,498.2 372.1,501.5 373.9,503.7C375.7,505.9 377.4,507.7 379.2,509.0C380.9,510.3 382.4,511.1 384.4,511.6C386.4,512.1 388.8,512.2 391.0,512.2C393.2,512.2 395.6,511.9 397.6,511.6C399.6,511.3 401.1,511.2 402.9,510.3C404.7,509.4 406.4,507.9 408.2,506.4C410.0,504.9 411.8,503.0 413.5,501.1C415.2,499.2 416.9,497.3 418.7,495.3C420.4,493.3 422.2,491.5 424.0,489.2C425.8,486.9 427.8,483.5 429.3,481.3C430.8,479.1 432.0,477.1 433.2,476.0C434.4,474.9 435.6,474.5 436.7,474.7C437.8,474.9 438.6,477.6 439.8,477.4C441.0,477.2 442.2,475.4 443.8,473.4C445.4,471.4 447.3,468.1 449.1,465.5C450.9,462.9 452.5,460.5 454.4,457.6C456.2,454.7 458.4,451.2 460.2,448.3C462.0,445.4 463.6,442.7 465.2,440.0C466.8,437.3 468.2,433.9 470.0,432.0C471.8,430.1 475.0,429.1 476.0,428.5" fill="none" stroke="#f03541" stroke-width="1"/></g>
<!--BEAR-->
<g transform="translate(60 40) scale(0.1)" stroke-linejoin="round" stroke-linecap="round">
<defs>
<path id="bBody" d="M22,765 C60,700 110,645 175,605 L330,560 L640,500 C700,485 770,495 830,550 C900,590 960,660 975,740 C985,810 960,890 900,950 L650,950 C560,960 420,965 300,955 C200,935 100,870 22,765 Z"/>
<path id="bHead" d="M205,175 C260,140 340,118 431,119 C455,100 490,72 518,64 C545,58 572,62 582,80 C590,100 585,130 567,156 C560,166 550,174 541,179 C565,215 595,250 616,284 C628,305 640,330 645,350 L630,380 L642,420 L620,442 L627,480 L608,498 C628,505 640,520 628,545 L606,560 C606,590 590,615 560,640 C520,668 460,672 420,655 C390,640 370,615 352,585 C340,620 300,645 260,640 C220,635 190,600 180,570 C150,560 132,530 132,500 C115,460 105,400 118,345 L127,314 C160,305 186,285 191,250 C195,220 195,192 205,175 Z"/>
<circle id="bEarL" cx="125" cy="230" r="76"/>
<path id="bHand" d="M800,606 C826,604 842,628 844,660 C846,705 846,745 856,778 C862,786 868,786 872,790 C890,815 900,860 896,920 C890,985 850,1040 800,1056 C750,1066 700,1040 680,1000 C655,960 650,900 655,850 C670,825 715,812 745,792 C752,745 750,690 762,645 C770,620 784,608 800,606 Z"/>
<path id="bCoin" d="M866,120 C905,118 945,160 947,225 C950,300 905,385 845,392 C800,396 740,345 736,278 C732,200 800,124 866,120 Z"/>
<path id="bTrail" d="M766,387 C740,430 722,490 714,542 C710,600 712,680 730,760 L744,751 C733,680 735,600 744,542 C752,500 775,440 803,396 Z"/>
<path id="bSw1" d="M776,158 C735,158 705,180 705,203 C706,214 712,222 720,228"/>
<path id="bSw2" d="M948,295 C972,318 968,345 945,352 C930,357 915,358 900,356"/>
</defs>
<!-- white sticker border -->
<g fill="#fff" stroke="#fff" stroke-width="44">
<use href="#bBody"/><use href="#bHead"/><use href="#bEarL"/><use href="#bHand"/><use href="#bCoin"/><use href="#bTrail"/>
<use href="#bSw1" fill="none" stroke-width="56"/><use href="#bSw2" fill="none" stroke-width="56"/>
</g>
</g>

<line x1="1" y1="135.5" x2="889" y2="135.5" stroke="#f8a0a9" stroke-width="1" stroke-dasharray="1 1"/>
<g transform="translate(60 40) scale(0.1)" stroke-linejoin="round" stroke-linecap="round">
<!-- body / shirt -->
<use href="#bBody" fill="#c4e6f6" stroke="#3d64a8" stroke-width="7"/>
<path d="M22,765 C60,700 100,650 150,620 C140,700 130,780 135,885 C90,850 50,810 22,765 Z" fill="#8fcfe3"/>
<path d="M95,680 C170,715 225,800 265,935" fill="none" stroke="#2c4a9c" stroke-width="8"/>
<path d="M140,650 C200,715 245,810 272,935" fill="none" stroke="#4fa7a8" stroke-width="6"/>
<!-- right sleeve / cuff -->
<path d="M905,600 C945,640 968,690 975,740 C985,810 960,890 900,950 L850,950 C890,880 905,800 890,730 C882,690 870,655 850,625 Z" fill="#e9f5fc" stroke="#5e8fc4" stroke-width="5"/>
<path d="M862,635 C910,690 930,790 890,905" fill="none" stroke="#6fb6d8" stroke-width="7"/>
<path d="M835,700 C880,750 895,840 862,925 L895,935 C935,850 925,740 872,675 Z" fill="#fff" stroke="#5e8fc4" stroke-width="5"/>
<!-- suspenders -->
<path d="M165,615 L230,720 L290,830 L330,935 L395,915 L360,830 L300,730 L215,630 Z" fill="#e3141e" stroke="#6b1d10" stroke-width="9"/>
<path d="M578,600 L622,640 L655,715 L692,775 L645,795 L605,720 L585,655 Z" fill="#e3141e" stroke="#6b1d10" stroke-width="9"/>
<path d="M318,935 C340,915 385,905 408,918 L412,960 L325,962 Z" fill="#dba043" stroke="#7a4210" stroke-width="7"/>
<path d="M636,790 C655,772 685,762 704,772 L702,820 L648,832 Z" fill="#dba043" stroke="#7a4210" stroke-width="7"/>
<!-- collar -->
<path d="M215,630 L280,680 L370,765 L400,710 L430,690 L400,640 L300,600 Z" fill="#fff" stroke="#a9cfe6" stroke-width="5"/>
<path d="M540,650 L595,710 L600,640 L580,610 Z" fill="#fff" stroke="#a9cfe6" stroke-width="5"/>
<!-- tie -->
<path d="M410,700 L440,685 L545,690 L530,742 L440,752 Z" fill="#4468bb" stroke="#263f8e" stroke-width="7"/>
<path d="M445,750 L525,742 L600,930 L585,950 L482,952 Z" fill="#4468bb" stroke="#263f8e" stroke-width="7"/>
<path d="M480,760 L520,940 M505,755 L560,935" fill="none" stroke="#2f4ea3" stroke-width="10"/>
<!-- head -->
<use href="#bEarL" fill="#c47a38" stroke="#5e300e" stroke-width="11"/>
<circle cx="150" cy="236" r="45" fill="#9a5426"/>
<path d="M118,232 C124,205 156,198 184,212 C186,235 172,262 147,270 C128,262 116,250 118,232 Z" fill="#ea9c92"/>
<use href="#bHead" fill="#dba052" stroke="#5e300e" stroke-width="11"/>
<!-- right ear inner -->
<path d="M478,147 C500,120 535,102 562,102 C568,125 565,148 556,162 C540,172 520,172 503,166 Z" fill="#9a5a35"/>
<path d="M500,152 C510,138 528,128 543,128 C545,140 541,152 534,159 Z" fill="#ea96a0"/>
<!-- dark side of face -->
<path d="M205,178 C250,150 320,128 371,124 C385,160 405,200 417,238 C430,290 426,350 405,400 C390,440 355,475 318,492 C312,520 320,560 352,590 C338,618 300,640 260,636 C222,631 194,598 184,567 C154,557 136,528 136,500 C120,460 110,400 122,345 L130,317 C162,308 190,288 195,252 C199,222 199,194 205,178 Z" fill="#be7742"/>
<path d="M130,317 L122,345 C110,400 120,460 136,500 C136,528 154,557 184,567 C195,540 195,490 200,440 C185,400 175,350 188,292 C170,305 150,312 130,317 Z" fill="#9a6036"/>
<path d="M184,567 C194,598 222,631 260,636 C300,640 338,618 352,588 C334,566 320,535 318,500 C290,525 240,548 184,567 Z" fill="#a55f2c"/>
<!-- cheek lights -->
<path d="M430,330 C460,300 500,360 560,370 C600,380 625,420 612,470 C590,500 560,440 500,420 C450,430 410,470 380,500 C400,440 410,380 430,330 Z" fill="#e6ae74"/>
<path d="M320,495 C370,470 420,440 470,420 C465,470 480,520 520,545 C470,570 400,565 350,532 Z" fill="#e6ae74"/>
<!-- eyelid + wink -->
<path d="M285,300 C300,292 312,292 322,296 C312,320 306,345 300,366 C290,362 282,356 278,350 C276,330 278,312 285,300 Z" fill="#a8632f"/><path d="M322,294 C340,288 358,292 368,300 C372,315 370,330 366,340 C350,336 335,338 320,342 C316,325 316,308 322,294 Z" fill="#e0a45c"/>
<path d="M300,405 C320,398 345,398 362,405 C366,425 355,445 335,448 C312,446 300,428 300,405 Z" fill="#e0a45c"/>
<path d="M275,370 C298,352 340,344 378,355" fill="none" stroke="#1a2550" stroke-width="15"/>
<!-- eyebrows -->
<path d="M232,282 C254,226 338,198 398,236 C404,258 394,274 380,270 C335,256 290,270 250,300 Z" fill="#5e2410"/>
<path d="M426,210 C450,170 510,165 548,225 C556,240 548,252 538,246 C512,218 474,214 438,238 Z" fill="#5e2410"/>
<path d="M440,300 C450,340 470,380 520,400 C500,410 470,420 440,430 C425,390 425,340 440,300 Z" fill="#efbf98"/>
<!-- right eye -->
<ellipse cx="503" cy="307" rx="34" ry="44" fill="#fff" stroke="#4a2a1a" stroke-width="8" transform="rotate(-8 503 307)"/>
<ellipse cx="490" cy="309" rx="21" ry="25" fill="#17235e"/>
<circle cx="484" cy="296" r="8" fill="#fff"/><path d="M528,345 C545,370 560,390 570,402" fill="none" stroke="#6b3a14" stroke-width="6"/>
<!-- snout -->
<path d="M552,425 C590,436 625,468 630,495 C625,522 600,540 580,545 C560,550 540,545 525,535 C535,500 545,465 552,425 Z" fill="#f1c09a"/>
<ellipse cx="512" cy="450" rx="52" ry="43" fill="#222228" transform="rotate(-12 512 450)"/>
<ellipse cx="520" cy="425" rx="22" ry="9" fill="#8a8d98" transform="rotate(-12 520 425)"/>
<!-- mouth -->
<path d="M305,495 C315,545 340,595 400,640 C440,662 510,662 550,634 C580,612 600,590 606,560 C603,548 599,545 595,543 C570,562 530,580 500,582 C470,584 440,582 420,575 C380,560 340,530 305,495 Z" fill="#e4a760" stroke="#5e300e" stroke-width="8"/>
<path d="M350,535 C380,560 410,573 420,575 C440,582 470,584 500,582 C530,580 570,562 595,545 C594,560 590,572 580,582 C560,602 535,612 510,616 C480,620 455,620 430,616 C400,605 375,585 362,565 Z" fill="#d3dae4" stroke="#6b3a14" stroke-width="6"/>
<path d="M392,568 L398,600 M428,580 L432,614 M468,584 L470,618 M508,582 L510,614 M548,572 L552,602 M362,560 C420,600 520,606 590,556" fill="none" stroke="#98a1b4" stroke-width="5"/>
<!-- hand -->
<use href="#bHand" fill="#c98240" stroke="#5e300e" stroke-width="10"/>
<path d="M815,640 C825,700 835,760 852,790 C878,820 888,870 882,925 C875,985 845,1030 800,1045 C830,990 835,900 815,840 C800,800 800,700 815,640 Z" fill="#dfa25c"/>
<path d="M662,858 C680,845 715,825 738,800 C742,840 740,870 735,900 C700,905 680,900 665,895 Z" fill="#aa652d"/>
<path d="M668,895 C700,890 735,885 760,880 M678,950 C705,945 730,942 752,940 M702,1000 C725,995 745,992 762,990" fill="none" stroke="#6b3a14" stroke-width="7"/>
<circle cx="726" cy="830" r="26" fill="#f7d9a0"/>
<path d="M726,784 L740,816 L772,830 L740,844 L726,876 L712,844 L680,830 L712,816 Z" fill="#fff"/>
<!-- coin trail -->
<path d="M766,384 C740,430 722,490 714,542 C710,600 712,680 730,760" fill="none" stroke="#262b36" stroke-width="7"/>
<path d="M803,392 C775,440 752,500 744,542 C735,600 733,680 744,751" fill="none" stroke="#262b36" stroke-width="7"/>
<!-- swooshes -->
<use href="#bSw1" fill="none" stroke="#3a3e48" stroke-width="21"/><use href="#bSw1" fill="none" stroke="#fff" stroke-width="10"/>
<use href="#bSw2" fill="none" stroke="#3a3e48" stroke-width="21"/><use href="#bSw2" fill="none" stroke="#fff" stroke-width="10"/>
<!-- coin -->
<use href="#bCoin" fill="#c4752a" stroke="#7a4210" stroke-width="8"/>
<path d="M760,215 L752,240 M748,262 L746,286 M750,308 L758,330 M772,188 L782,170 M798,152 L815,140" fill="none" stroke="#f3c77a" stroke-width="9"/>
<ellipse cx="867" cy="248" rx="72" ry="126" transform="rotate(14 867 248)" fill="#dc9844" stroke="#8a4a1a" stroke-width="7"/>
<ellipse cx="869" cy="248" rx="56" ry="100" transform="rotate(14 869 248)" fill="#e2a24c" stroke="#7a4010" stroke-width="5" stroke-dasharray="10 5"/>
<path d="M822,262 L912,205 L872,318 L862,268 Z" fill="#7a3e14"/>
<path d="M862,268 L912,205 M846,298 L862,268" fill="none" stroke="#7a3e14" stroke-width="7"/>
</g>

<!-- arrows -->
<g fill="none" stroke="#f23645" stroke-linecap="round" stroke-linejoin="round">
<path d="M483.1,76.4 L519.9,198.5 M510.9,193 L519.9,198.5 L525,189.8" stroke-width="1.5"/>
<path d="M522.7,208.6 L553.4,307 M545.5,302.3 L553.4,307 L558,299.1" stroke-width="1.2"/>
<path d="M493.2,408 L540.2,519.6 M531.5,516.1 L540.2,519.6 L544.1,511.1" stroke-width="1.2"/>
<path d="M507.7,135.9 L516.4,133.4 L513.2,131.6" stroke-width="1.3"/>
<path d="M551.6,251.5 C554.2,252.3 554.4,255.4 552,256.1 C549.8,256.6 547,254.8 544.5,254.2 L545.9,258.8" stroke-width="1.2"/>
</g>
<!-- callouts -->
<path d="M243,346.9 H302.2 L338.9,323.4 L307.3,352.3 V367 a4,4 0 0 1 -4,4 H242.5 a4,4 0 0 1 -4,-4 V350.9 a4,4 0 0 1 4,-4 Z" fill="#fddde0" stroke="#f7737e" stroke-width="1"/>
<text x="245.5" y="361.7" font-size="9.4" font-weight="bold" fill="#f23645" textLength="54.5" lengthAdjust="spacingAndGlyphs">MA 200 1W</text>
<path d="M573.7,389.2 H679.6 a4.5,4.5 0 0 1 4.5,4.5 V411.8 a4.5,4.5 0 0 1 -4.5,4.5 H573.7 a4.5,4.5 0 0 1 -4.5,-4.5 V408.6 L525.8,404.9 L569.2,397.5 V393.7 a4.5,4.5 0 0 1 4.5,-4.5 Z" fill="#fccdd1" stroke="#f23645" stroke-width="1.2"/>
<text x="576.4" y="406.7" font-size="12.6" font-weight="bold" fill="#f23645" textLength="100.4" lengthAdjust="spacingAndGlyphs">Good short zone</text>
<!-- title -->
<text x="5.6" y="14" font-size="8.7" font-weight="bold" fill="#131722" textLength="237.5" lengthAdjust="spacingAndGlyphs">Binance Coin / TetherUS PERPETUAL CONTRACT · 1Д · Binance</text>
<!-- price axis -->
<rect x="891.3" y="2.4" width="37.8" height="17.3" rx="3" fill="#fff" stroke="#e6e8ee" stroke-width="1"/>
<text x="896.8" y="14.7" class="ax" textLength="18" lengthAdjust="spacingAndGlyphs">USDT</text>
<g class="ax">
<text x="894.6" y="36.0" textLength="23.3" lengthAdjust="spacingAndGlyphs">700,00</text>
<text x="894.6" y="63.6" textLength="23.3" lengthAdjust="spacingAndGlyphs">680,00</text>
<text x="894.6" y="174.6" textLength="23.3" lengthAdjust="spacingAndGlyphs">600,00</text>
<text x="894.6" y="229.8" textLength="23.3" lengthAdjust="spacingAndGlyphs">560,00</text>
<text x="894.6" y="257.5" textLength="23.3" lengthAdjust="spacingAndGlyphs">540,00</text>
<text x="894.6" y="285.4" textLength="23.3" lengthAdjust="spacingAndGlyphs">520,00</text>
<text x="894.6" y="340.4" textLength="23.3" lengthAdjust="spacingAndGlyphs">480,00</text>
<text x="894.6" y="368.3" textLength="23.3" lengthAdjust="spacingAndGlyphs">460,00</text>
<text x="894.5" y="391.2" textLength="19.7" lengthAdjust="spacingAndGlyphs">75,00</text>
<text x="894.5" y="414.0" textLength="19.7" lengthAdjust="spacingAndGlyphs">50,00</text>
<text x="894.5" y="436.9" textLength="19.7" lengthAdjust="spacingAndGlyphs">25,00</text>
<text x="894.5" y="459.2" textLength="15.1" lengthAdjust="spacingAndGlyphs">0,00</text>
<text x="894.9" y="482.1" textLength="23.4" lengthAdjust="spacingAndGlyphs">−25,00</text>
<text x="894.9" y="505.4" textLength="23.4" lengthAdjust="spacingAndGlyphs">−50,00</text>
<text x="894.9" y="527.8" textLength="23.4" lengthAdjust="spacingAndGlyphs">−75,00</text>
</g>
<rect x="889" y="83.7" width="32.5" height="10.3" fill="#8e24aa"/>
<text x="894.6" y="92.1" class="axw" textLength="23.3" lengthAdjust="spacingAndGlyphs">660,00</text>
<rect x="889" y="111.8" width="32.5" height="10.4" fill="#8e24aa"/>
<text x="894.6" y="120.2" class="axw" textLength="23.3" lengthAdjust="spacingAndGlyphs">640,00</text>
<rect x="889" y="130" width="39.8" height="20" fill="#f23645"/>
<text x="894.6" y="137.7" font-size="8.6" fill="#fff" textLength="23.3" lengthAdjust="spacingAndGlyphs">626,54</text>
<text x="894.6" y="147.4" font-size="8.6" fill="#fbc4c8" textLength="30" lengthAdjust="spacingAndGlyphs">10:01:13</text>
<rect x="889" y="194.2" width="32.5" height="10.9" fill="#2a2e39"/>
<text x="894.6" y="202.8" class="axw" textLength="23.3" lengthAdjust="spacingAndGlyphs">580,00</text>
<rect x="889" y="305.2" width="32.5" height="10.6" fill="#2a2e39"/>
<text x="894.6" y="313.7" class="axw" textLength="23.3" lengthAdjust="spacingAndGlyphs">500,00</text>
<!-- time axis -->
<g class="ax">
<text x="49.5" y="543.1" textLength="14" lengthAdjust="spacingAndGlyphs">Ноя</text>
<text x="149.4" y="543.1" textLength="14" lengthAdjust="spacingAndGlyphs">Дек</text>
<text x="250.9" y="543.1" font-weight="bold" textLength="18.1" lengthAdjust="spacingAndGlyphs">2026</text>
<text x="355.9" y="543.1" textLength="14.2" lengthAdjust="spacingAndGlyphs">Фев</text>
<text x="449.3" y="543.1" textLength="14.8" lengthAdjust="spacingAndGlyphs">Мар</text>
<text x="553.4" y="543.1" textLength="13.4" lengthAdjust="spacingAndGlyphs">Апр</text>
<text x="652.3" y="543.1" textLength="14.8" lengthAdjust="spacingAndGlyphs">Май</text>
<text x="755.5" y="543.1" textLength="15.4" lengthAdjust="spacingAndGlyphs">Июн</text>
<text x="855.4" y="543.1" textLength="15" lengthAdjust="spacingAndGlyphs">Июл</text>
</g>
</svg>
</body></html>
